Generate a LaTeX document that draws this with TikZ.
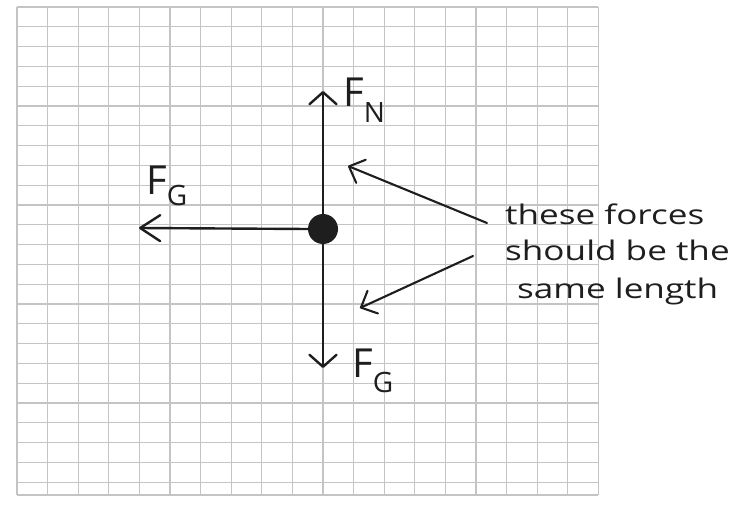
\documentclass[tikz,border=0pt]{standalone}
\usepackage{fontspec}
\usepackage{graphicx}
\newfontfamily\hand{Open Sans}
\usetikzlibrary{arrows.meta}
\definecolor{ink}{HTML}{1E1E1E}
\definecolor{gridc}{HTML}{C4C4C4}
\newcommand{\subsz}{\fontsize{28}{28}\selectfont}
\begin{document}
\begin{tikzpicture}[x=1pt,y=1pt,
  gridline/.style={draw=gridc, line width=1.1pt},
  force/.style={draw=ink, line width=2.4pt, line cap=round, line join=round},
  vhead/.style={-{Straight Barb[length=12pt,width=27pt,line cap=round,line join=round]}},
  hhead/.style={-{Straight Barb[length=20pt,width=26pt,line cap=round,line join=round]}},
  phead/.style={-{Straight Barb[length=13pt,width=25pt,line cap=round,line join=round]}},
  pointer/.style={draw=ink, line width=2.1pt, line cap=round, line join=round},
  flabel/.style={anchor=base west, inner sep=0pt, text=ink, font=\hand\fontsize{40}{40}\selectfont},
  note/.style={anchor=base west, inner sep=0pt, text=ink, font=\hand\fontsize{27}{27}\selectfont},
  dotstyle/.style={circle, fill=ink, minimum size=30pt, inner sep=0pt}
]
\useasboundingbox (0,0) rectangle (734,507);
\fill[white] (0,0) rectangle (734,507);
% grid paper
\foreach \k in {0,...,24} \draw[gridline] (17,{500-19.8*\k}) -- (598.4,{500-19.8*\k});
\draw[gridline] (17,12) -- (598.4,12);
\foreach \k in {0,...,19} \draw[gridline] ({17+30.6*\k},500) -- ({17+30.6*\k},12);
% body and forces
\node[dotstyle] (dot) at (323,278) {};
\coordinate (tipN) at (323,416);
\coordinate (tipG) at (323,139);
\coordinate (tipL) at (139,279);
\draw[force, vhead] (dot.north) -- (tipN);
\draw[force, vhead] (dot.south) -- (tipG);
\draw[force, hhead] (dot.west) -- (tipL);
% labels
\node[flabel] (fn) at (343,400) {F\raisebox{-16pt}{\subsz N}};
\node[flabel] (fg) at (352,130) {F\raisebox{-15pt}{\subsz G}};
\node[flabel] (fgl) at (146,312) {F\raisebox{-11pt}{\subsz G}};
% note
\node[note] (t1) at (505,282) {\scalebox{1.3}[1]{these forces}};
\node[note] (t2) at (505,247) {\scalebox{1.3}[1]{should be the}};
\node[note] (t3) at (517,209) {\scalebox{1.3}[1]{same length}};
\coordinate (p1s) at (487,284);
\coordinate (p1e) at (348,341);
\coordinate (p2s) at (473,251);
\coordinate (p2e) at (360,199);
\draw[pointer, phead] (p1s) -- (p1e);
\draw[pointer, phead] (p2s) -- (p2e);
\end{tikzpicture}
\end{document}
